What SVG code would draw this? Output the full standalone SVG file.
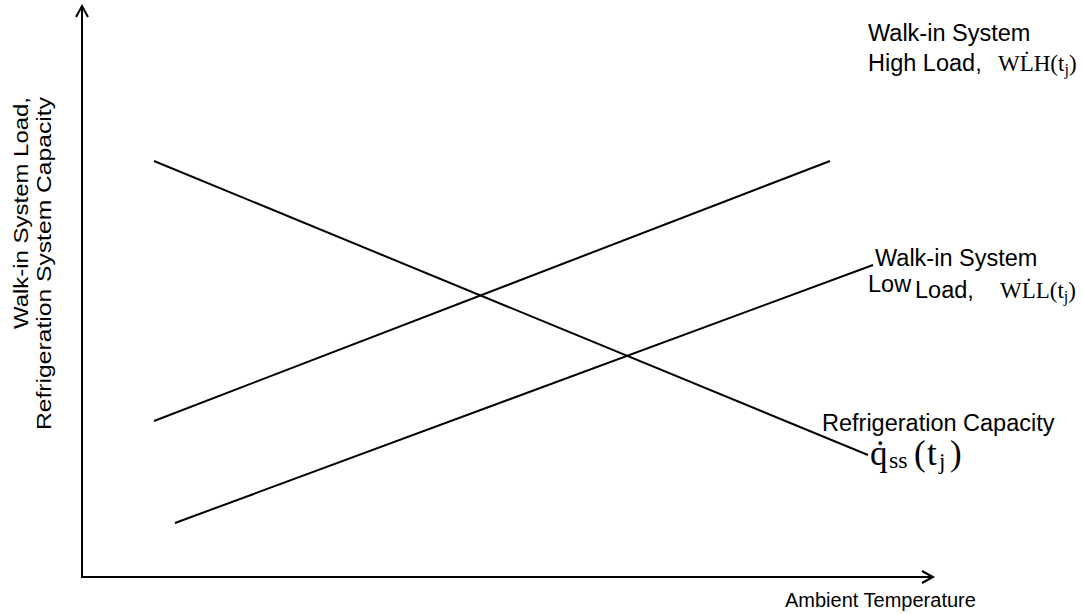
<svg xmlns="http://www.w3.org/2000/svg" width="1083" height="614" viewBox="0 0 1083 614">
<style>
.ax{stroke:#000;stroke-width:2;fill:none}
.ln{stroke:#000;stroke-width:2;fill:none}
.t{font-family:"Liberation Sans",Arial,sans-serif;font-size:23.5px;fill:#000}
.ty{font-family:"Liberation Sans",Arial,sans-serif;font-size:21px;fill:#000}
.tx{font-family:"Liberation Sans",Arial,sans-serif;font-size:20px;fill:#000}
.m{font-family:"Liberation Serif","Times New Roman",serif;font-size:23px;fill:#000}
.mq{font-family:"Liberation Serif","Times New Roman",serif;font-size:35px;fill:#000}
</style>
<rect width="1083" height="614" fill="#fff"/>
<g id="axes">
<path class="ax" d="M82,577 V6 M76,17 L82,6 L88,17"/>
<path class="ax" d="M81,577 H933 M922,571 L933,577 L922,583"/>
</g>
<g id="connectors">
<line class="ln" x1="154" y1="161" x2="868" y2="455"/>
<line class="ln" x1="154" y1="421" x2="830" y2="161"/>
<line class="ln" x1="175" y1="523" x2="873" y2="265"/>
</g>
<g id="y-label">
<text class="ty" transform="translate(28,97) rotate(-90)" text-anchor="end" textLength="232" lengthAdjust="spacingAndGlyphs">Walk-in System Load,</text>
<text class="ty" transform="translate(51,97) rotate(-90)" text-anchor="end" textLength="333" lengthAdjust="spacingAndGlyphs">Refrigeration System Capacity</text>
</g>
<g id="x-label">
<text class="tx" x="785" y="607">Ambient Temperature</text>
</g>
<g id="high-load">
<text class="t" x="868" y="41">Walk-in System</text>
<text class="t" x="868" y="71">High Load,</text>
<text class="m" x="998" y="71">WL&#775;H(t<tspan font-size="16" dy="4">j</tspan><tspan dy="-4">)</tspan></text>
</g>
<g id="low-load">
<text class="t" x="875" y="266">Walk-in System</text>
<text class="t" x="868" y="292">Low</text>
<text class="t" x="915" y="298">Load,</text>
<text class="m" x="1000" y="298">WL&#775;L(t<tspan font-size="16" dy="4">j</tspan><tspan dy="-4">)</tspan></text>
</g>
<g id="capacity">
<text class="mq" x="870" y="465">q&#775;<tspan x="889" font-size="24" dy="3">ss</tspan><tspan x="914" dy="-3">(</tspan><tspan x="927">t</tspan><tspan x="939" font-size="23" dy="4">j</tspan><tspan x="950" dy="-4">)</tspan></text>
<text class="t" x="822" y="431">Refrigeration Capacity</text>
</g>
</svg>
